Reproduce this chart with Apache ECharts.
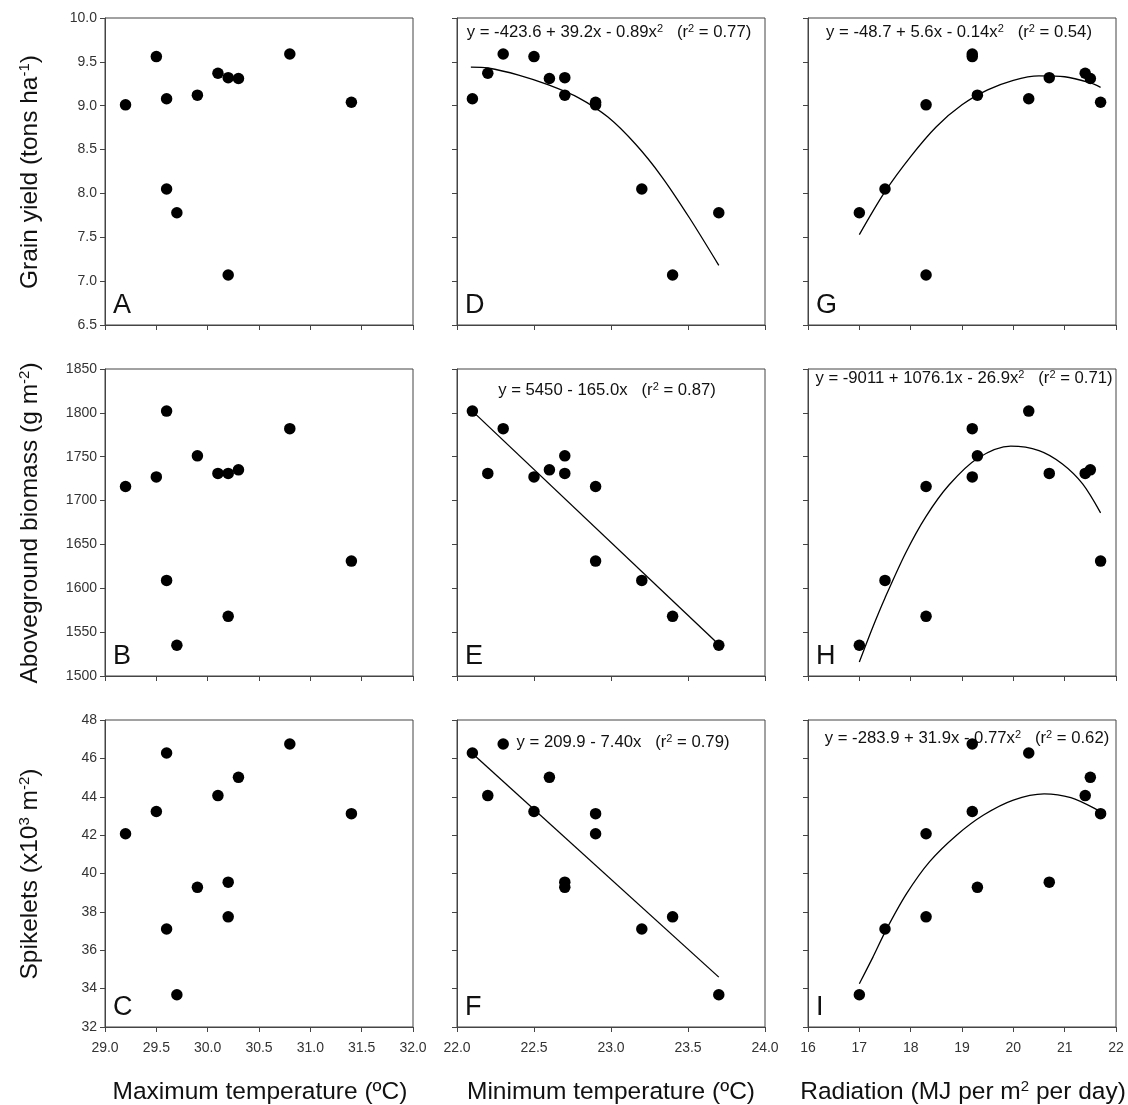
<!doctype html>
<html>
<head>
<meta charset="UTF-8">
<title></title>
<script src="https://cdn.jsdelivr.net/npm/echarts@6/dist/echarts.min.js"></script>
<style>
html,body{margin:0;padding:0;background:#fff;}
#main{width:1128px;height:1105px;}
</style>
</head>
<body>
<div id="main"></div>
<script>
// 12 sites, same order in every array
var maxTemp   = [29.2, 29.5, 29.6, 29.6, 29.7, 29.9, 30.1, 30.2, 30.3, 30.2, 30.8, 31.4];
var minTemp   = [22.9, 22.5, 22.1, 23.2, 23.7, 22.7, 22.2, 22.7, 22.6, 23.4, 22.3, 22.9];
var radiation = [18.3, 19.2, 20.3, 17.5, 17.0, 19.3, 21.4, 20.7, 21.5, 18.3, 19.2, 21.7];
var grainYield = [9.01, 9.56, 9.08, 8.05, 7.78, 9.12, 9.37, 9.32, 9.31, 7.07, 9.59, 9.04];
var biomass    = [1716, 1727, 1802, 1609, 1535, 1751, 1731, 1731, 1735, 1568, 1782, 1631];
var spikelets  = [42.07, 43.23, 46.28, 37.11, 33.68, 39.28, 44.06, 39.55, 45.01, 37.74, 46.75, 43.12];

// fitted curves
var fitD = [[22.09, 9.44], [22.2, 9.43], [22.4, 9.35], [22.59, 9.24], [22.79, 9.09], [22.98, 8.87], [23.16, 8.56], [23.33, 8.19], [23.51, 7.72], [23.7, 7.18]];
var fitE = [[22.1, 1802], [23.7, 1536]];
var fitF = [[22.1, 46.25], [23.7, 34.6]];
var fitG = [[17.0, 7.53], [17.5, 8.02], [18.0, 8.42], [18.5, 8.76], [19.0, 9.01], [19.5, 9.18], [20.0, 9.29], [20.5, 9.34], [21.0, 9.33], [21.5, 9.26], [21.7, 9.21]];
var fitH = [[17.0, 1516], [17.25, 1554], [17.5, 1589], [17.9, 1640], [18.3, 1682], [18.75, 1718], [19.3, 1748], [19.95, 1762], [20.5, 1757], [20.95, 1742], [21.35, 1719], [21.7, 1686]];
var fitI = [[17.0, 34.25], [17.27, 35.67], [17.53, 37.1], [17.92, 38.95], [18.37, 40.62], [18.9, 42.01], [19.42, 43.05], [20.0, 43.83], [20.6, 44.15], [21.12, 43.95], [21.64, 43.31], [21.7, 43.15]];

// axis ranges (x per column, y per row): min, max, step, decimals
var xRange = [[29, 32, 0.5, 1], [22, 24, 0.5, 1], [16, 22, 1, 0]];
var yRange = [[6.5, 10, 0.5, 1], [1500, 1850, 50, 0], [32, 48, 2, 0]];

var xCols = [maxTemp, minTemp, radiation];
var yRows = [grainYield, biomass, spikelets];
var fits = {1: fitD, 4: fitE, 7: fitF, 2: fitG, 5: fitH, 8: fitI};
var letters = ['A', 'D', 'G', 'B', 'E', 'H', 'C', 'F', 'I'];

var colLeft = [105, 457, 808];
var rowTop = [18, 369, 720];
var pw = 308, ph = 307;
var ff = 'Liberation Sans, Arial, sans-serif';
var frame = '#444';

var grids = [], xAxes = [], yAxes = [], series = [], graphics = [];

for (var r = 0; r < 3; r++) {
	for (var c = 0; c < 3; c++) {
		var i = r * 3 + c;
		grids.push({left: colLeft[c], top: rowTop[r], width: pw, height: ph,
			show: true, borderColor: frame, borderWidth: 1, backgroundColor: 'transparent'});
		(function (rr, cc) {
			xAxes.push({
				type: 'value', gridIndex: i,
				min: xRange[cc][0], max: xRange[cc][1], interval: xRange[cc][2],
				axisLine: {show: true, lineStyle: {color: frame, width: 1}},
				axisTick: {show: true, length: 5, lineStyle: {color: frame}},
				splitLine: {show: false},
				axisLabel: {show: rr == 2, margin: 14, fontSize: 14, color: '#333', fontFamily: ff,
					formatter: function (v) { return v.toFixed(xRange[cc][3]); }}
			});
			yAxes.push({
				type: 'value', gridIndex: i,
				min: yRange[rr][0], max: yRange[rr][1], interval: yRange[rr][2],
				axisLine: {show: true, lineStyle: {color: frame, width: 1}},
				axisTick: {show: true, length: 5, lineStyle: {color: frame}},
				splitLine: {show: false},
				axisLabel: {show: cc == 0, margin: 8, fontSize: 14, color: '#333', fontFamily: ff,
					formatter: function (v) { return v.toFixed(yRange[rr][3]); }}
			});
		})(r, c);

		var pts = [];
		for (var k = 0; k < 12; k++) pts.push([xCols[c][k], yRows[r][k]]);
		if (fits[i]) {
			series.push({type: 'line', xAxisIndex: i, yAxisIndex: i, data: fits[i],
				smooth: 0.3, showSymbol: false, silent: true,
				lineStyle: {color: '#000', width: 1.3}});
		}
		series.push({type: 'scatter', xAxisIndex: i, yAxisIndex: i, data: pts,
			symbolSize: 11.5, itemStyle: {color: '#000', opacity: 1}});

		graphics.push({type: 'text', x: colLeft[c] + 8, y: rowTop[r] + ph - 19,
			style: {text: letters[i], font: '27px ' + ff, fill: '#111', align: 'left', verticalAlign: 'middle'}});
	}
}

// superscripts: small token pinned to the top of a padded line box
var rich = {
	n: {fontSize: 16.7, lineHeight: 17, padding: [4, 0, 0, 0], verticalAlign: 'bottom', fontFamily: ff, fill: '#111', color: '#111'},
	s: {fontSize: 11, lineHeight: 11, verticalAlign: 'top', fontFamily: ff, fill: '#111', color: '#111'}
};
function eq(x, y, txt) {
	graphics.push({type: 'text', x: x, y: y,
		style: {text: txt, rich: rich, align: 'center', verticalAlign: 'middle'}});
}
eq(609, 32, '{n|y = -423.6 + 39.2x - 0.89x}{s|2}{n|   (r}{s|2}{n| = 0.77)}');
eq(959, 32, '{n|y = -48.7 + 5.6x - 0.14x}{s|2}{n|   (r}{s|2}{n| = 0.54)}');
eq(607, 390, '{n|y = 5450 - 165.0x   (r}{s|2}{n| = 0.87)}');
eq(964, 378, '{n|y = -9011 + 1076.1x - 26.9x}{s|2}{n|   (r}{s|2}{n| = 0.71)}');
eq(623, 742, '{n|y = 209.9 - 7.40x   (r}{s|2}{n| = 0.79)}');
eq(967, 738, '{n|y = -283.9 + 31.9x - 0.77x}{s|2}{n|   (r}{s|2}{n| = 0.62)}');

var trich = {
	n: {fontSize: 24.5, lineHeight: 25, padding: [6, 0, 0, 0], verticalAlign: 'bottom', fontFamily: ff, fill: '#111', color: '#111'},
	s: {fontSize: 15, lineHeight: 15, verticalAlign: 'top', fontFamily: ff, fill: '#111', color: '#111'}
};
function title(x, y, txt, rot) {
	graphics.push({type: 'text', x: x, y: y, rotation: rot ? Math.PI / 2 : 0,
		style: {text: txt, rich: trich, align: 'center', verticalAlign: 'middle'}});
}
title(30, 172, '{n|Grain yield (tons ha}{s|-1}{n|)}', true);
title(30, 523, '{n|Aboveground biomass (g m}{s|-2}{n|)}', true);
title(30, 874, '{n|Spikelets (x10}{s|3}{n| m}{s|-2}{n|)}', true);
title(260, 1092, '{n|Maximum temperature (ºC)}', false);
title(611, 1092, '{n|Minimum temperature (ºC)}', false);
title(963, 1092, '{n|Radiation (MJ per m}{s|2}{n| per day)}', false);

var myChart = echarts.init(document.getElementById('main'));
myChart.setOption({
	backgroundColor: '#fff',
	animation: false,
	grid: grids,
	xAxis: xAxes,
	yAxis: yAxes,
	series: series,
	graphic: graphics
});
</script>
</body>
</html>
